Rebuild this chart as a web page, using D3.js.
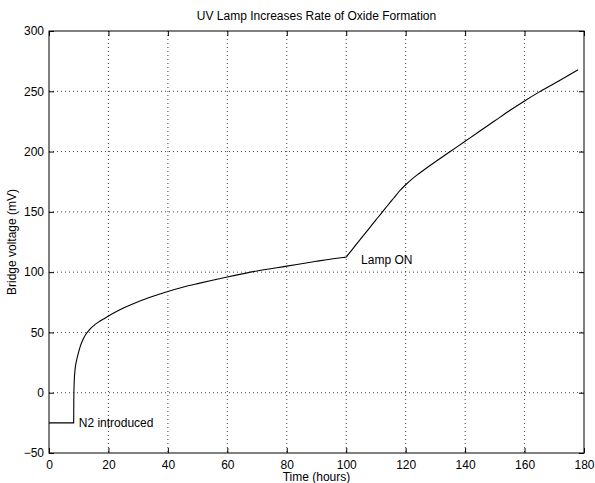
<!DOCTYPE html>
<html>
<head>
<meta charset="utf-8">
<script src="https://cdn.jsdelivr.net/npm/d3@7"></script>
<style>
  body { margin: 0; background: #fff; }
  svg { display: block; font-family: "Liberation Sans", Arial, Helvetica, sans-serif; }
  .axis path { display: none; }
  .axis line { stroke: #000; }
  .axis text { font-size: 12px; fill: #000; }
  .grid line { stroke: #444; stroke-dasharray: 1,3; }
</style>
</head>
<body>
<div id="chart"></div>
<script>
// time (hours) and bridge voltage (mV)
const hours = [0, 8.3, 8.35, 8.5, 8.8, 9.3, 9.9, 10.6, 11.4, 12.4, 13.5, 15, 16.5, 18.8, 21, 24, 30, 35, 40, 45, 50, 55, 60, 70, 80, 90, 99, 100,
               100.5, 102, 105, 108, 110, 112, 114, 116, 118, 120, 122, 124, 126, 130, 135, 140, 145, 150, 155, 160, 165, 170, 175, 178];
const voltage = [-25, -25, -5, 10, 20, 27, 33, 39, 44, 48.5, 52, 55.5, 58.3, 61.8, 65, 69, 75.5, 80, 84, 87.5, 90.5, 93.3, 96, 101, 105, 109, 112.2, 112.5,
                 114.05, 118.7, 128, 137.2, 143.3, 149.3, 155.5, 161.5, 167.5, 172.5, 177, 180.9, 184.5, 191.5, 200, 208.5, 217, 225.5, 234, 242, 249.5, 256.5, 263.5, 267.8];

const xTicks = [0, 20, 40, 60, 80, 100, 120, 140, 160, 180];
const yTicks = [-50, 0, 50, 100, 150, 200, 250, 300];

const notes = [
  {label: "N2 introduced", t: 10, v: -25},
  {label: "Lamp ON", t: 105, v: 110}
];

const W = 595, H = 483;
const margin = {top: 31, right: 11, bottom: 30, left: 49},
      width = W - margin.left - margin.right,
      height = H - margin.top - margin.bottom;

const svg = d3.select("#chart").append("svg")
    .attr("width", W)
    .attr("height", H);

const g = svg.append("g")
    .attr("transform", "translate(" + margin.left + "," + margin.top + ")");

const x = d3.scaleLinear().domain([0, 180]).range([0, width]);
const y = d3.scaleLinear().domain([-50, 300]).range([height, 0]);

// dotted grid (skip the box edges)
const grid = g.append("g").attr("class", "grid");
grid.selectAll("line.gx")
    .data(xTicks.slice(1, -1))
  .enter().append("line")
    .attr("x1", d => x(d)).attr("x2", d => x(d))
    .attr("y1", 0).attr("y2", height);
grid.selectAll("line.gy")
    .data(yTicks.slice(1, -1))
  .enter().append("line")
    .attr("y1", d => y(d)).attr("y2", d => y(d))
    .attr("x1", 0).attr("x2", width);

// axes with inward ticks on all four sides
g.append("g")
    .attr("class", "axis")
    .attr("transform", "translate(0," + height + ")")
    .call(d3.axisBottom(x).tickValues(xTicks).tickSize(-5).tickPadding(7));

g.append("g")
    .attr("class", "axis")
    .call(d3.axisTop(x).tickValues(xTicks).tickSize(-5).tickFormat(""));

g.append("g")
    .attr("class", "axis")
    .call(d3.axisLeft(y).tickValues(yTicks).tickSize(-5).tickPadding(5));

g.append("g")
    .attr("class", "axis")
    .attr("transform", "translate(" + width + ",0)")
    .call(d3.axisRight(y).tickValues(yTicks).tickSize(-5).tickFormat(""));

// box
g.append("rect")
    .attr("width", width)
    .attr("height", height)
    .attr("fill", "none")
    .attr("stroke", "#000")
    .attr("stroke-width", 1);

// data line
const line = d3.line()
    .x((d, i) => x(hours[i]))
    .y(d => y(d))
    .curve(d3.curveMonotoneX);

g.append("path")
    .datum(voltage)
    .attr("fill", "none")
    .attr("stroke", "#000")
    .attr("stroke-width", 1.1)
    .attr("d", line);

// annotations
g.selectAll("text.note")
    .data(notes)
  .enter().append("text")
    .attr("class", "note")
    .attr("x", d => x(d.t))
    .attr("y", d => y(d.v))
    .attr("dy", "0.35em")
    .attr("font-size", "12px")
    .text(d => d.label);

// title and labels
svg.append("text")
    .attr("x", margin.left + width / 2)
    .attr("y", 20)
    .attr("text-anchor", "middle")
    .attr("font-size", "12px")
    .text("UV Lamp Increases Rate of Oxide Formation");

svg.append("text")
    .attr("x", margin.left + width / 2)
    .attr("y", 481)
    .attr("text-anchor", "middle")
    .attr("font-size", "12px")
    .text("Time (hours)");

svg.append("text")
    .attr("transform", "translate(16," + (margin.top + height / 2) + ") rotate(-90)")
    .attr("text-anchor", "middle")
    .attr("font-size", "12px")
    .text("Bridge voltage (mV)");
</script>
</body>
</html>
